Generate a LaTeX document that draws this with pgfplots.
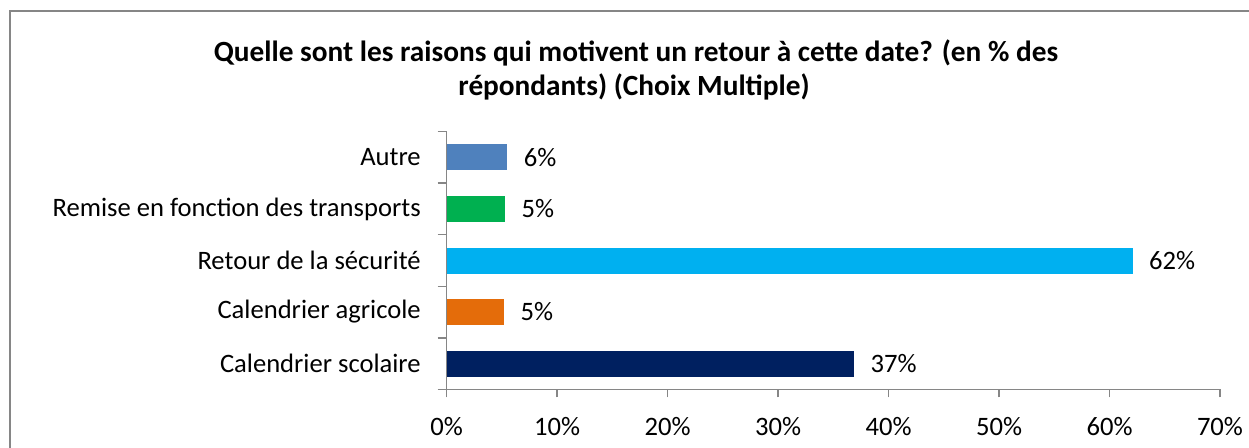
\documentclass[border=0pt]{standalone}
\usepackage{fontspec}
\setmainfont{Carlito}
\usepackage{pgfplots}
\pgfplotsset{compat=1.18}
\definecolor{cAutre}{HTML}{4F81BD}
\definecolor{cRemise}{HTML}{00B050}
\definecolor{cRetour}{HTML}{00B0F0}
\definecolor{cAgri}{HTML}{E46C0A}
\definecolor{cScol}{HTML}{002060}
\definecolor{axgray}{HTML}{868686}
\begin{document}
\begin{tikzpicture}
\useasboundingbox (0,0) rectangle (624.5pt,223.5pt);
% chart frame (partially visible)
\draw[axgray, line width=1pt] (4.75pt,-2pt) -- (4.75pt,218.15pt) -- (630pt,218.15pt);
% title
\node[anchor=base, font=\fontsize{14.65}{18}\selectfont\bfseries] at (318pt,192.75pt) {Quelle sont les raisons qui motivent un retour à cette date? (en \% des};
\node[anchor=base, font=\fontsize{14.65}{18}\selectfont\bfseries] at (317pt,175.75pt) {répondants) (Choix Multiple)};
\begin{axis}[
  at={(223.35pt,28.85pt)}, anchor=south west,
  scale only axis, width=386.65pt, height=128.8pt,
  xbar, bar shift=0pt, bar width=13pt,
  xmin=0, xmax=70, ymin=-0.5, ymax=4.5,
  axis x line*=bottom, axis y line*=left,
  axis line style={axgray, line width=0.75pt},
  tick align=outside,
  xtick={0,10,...,70},
  xticklabels={0\%,10\%,20\%,30\%,40\%,50\%,60\%,70\%},
  major tick length=4pt,
  xtick style={axgray, line width=0.75pt},
  ytick={0,1,2,3,4},
  yticklabels={Calendrier scolaire,Calendrier agricole,Retour de la sécurité,Remise en fonction des transports,Autre},
  major y tick style={draw=none},
  minor ytick={-0.5,0.5,1.5,2.5,3.5,4.5},
  minor y tick style={axgray, line width=0.75pt},
  minor tick length=4.5pt,
  ticklabel style={font=\fontsize{13.3}{15}\selectfont},
  /pgf/number format/assume math mode=true,
  yticklabel style={anchor=east, inner sep=0pt, xshift=-8.8pt},
  xticklabel style={anchor=north, inner sep=0pt, yshift=-10pt},
  nodes near coords={\pgfplotspointmeta},
  point meta=explicit symbolic,
  nodes near coords style={anchor=west, inner sep=0pt, xshift=8pt, font=\fontsize{13.3}{15}\selectfont, text=black},
]
\addplot[fill=cScol, draw=none] coordinates {(36.9,0) [37\%]};
\addplot[fill=cAgri, draw=none] coordinates {(5.2,1) [5\%]};
\addplot[fill=cRetour, draw=none] coordinates {(62.1,2) [62\%]};
\addplot[fill=cRemise, draw=none] coordinates {(5.3,3) [5\%]};
\addplot[fill=cAutre, draw=none] coordinates {(5.5,4) [6\%]};
\end{axis}
\end{tikzpicture}
\end{document}
